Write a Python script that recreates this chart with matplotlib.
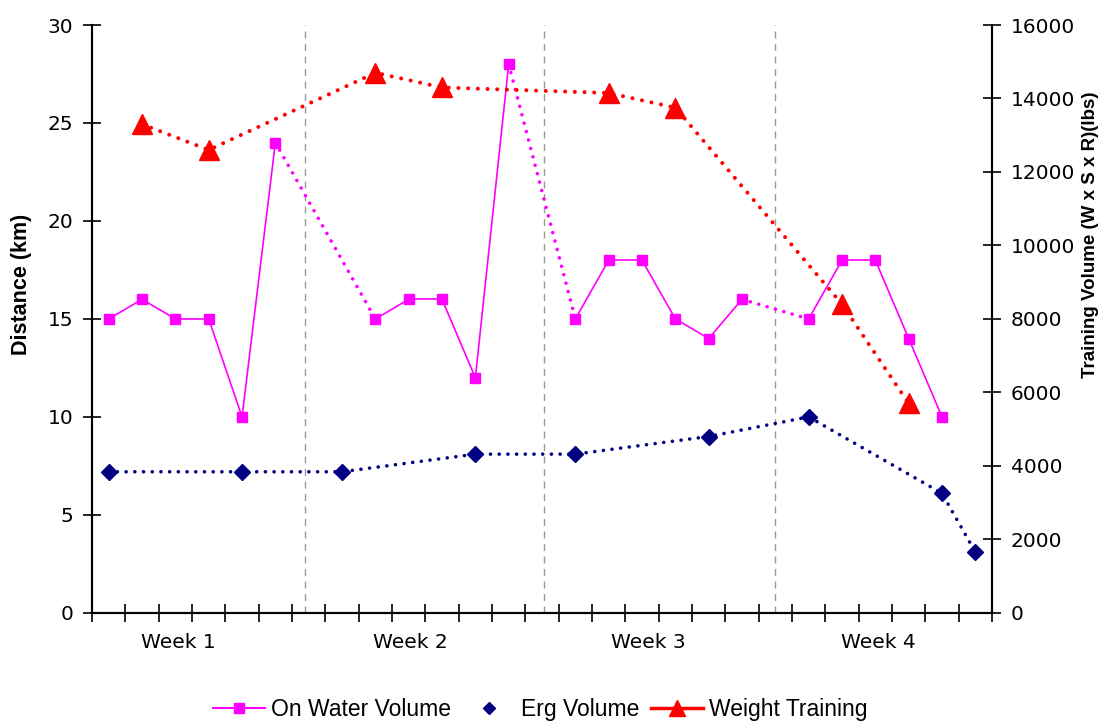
import numpy as np
import matplotlib.pyplot as plt
from matplotlib.lines import Line2D

# one slot per training day, 27 days over four weeks
n_days = 27
water_day = [0, 1, 2, 3, 4, 5, 8, 9, 10, 11, 12, 14, 15, 16, 17, 18, 19, 21, 22, 23, 24, 25]
water_km = [15, 16, 15, 15, 10, 24, 15, 16, 16, 12, 28, 15, 18, 18, 15, 14, 16, 15, 18, 18, 14, 10]

erg_day = [0, 4, 7, 11, 14, 18, 21, 25, 26]
erg_km = [7.2, 7.2, 7.2, 8.1, 8.1, 9.0, 10.0, 6.1, 3.1]

weights_day = [1, 3, 8, 10, 15, 17, 22, 24]
weights_lbs = [13300, 12600, 14700, 14300, 14150, 13750, 8400, 5700]

week_labels = ['Week 1', 'Week 2', 'Week 3', 'Week 4']
week_label_day = [2.1, 9.05, 16.2, 23.1]
week_breaks = [5.9, 13.05, 20.0]

MAGENTA = '#FF00FF'
NAVY = '#000080'
RED = '#FF0000'
dots = (0, (0.01, 2.4))

fig = plt.figure(figsize=(11.09, 7.21), dpi=100)
ax = fig.add_axes([0.083, 0.150, 0.8115, 0.8153])
ax2 = ax.twinx()

for xb in week_breaks:
    ax.axvline(xb, color='#999999', lw=1.0, ls=(0, (5, 4)), zorder=1)

# on water: solid between consecutive days, dotted across rest days
for i in range(len(water_day) - 1):
    seg_x = water_day[i:i + 2]
    seg_y = water_km[i:i + 2]
    if seg_x[1] - seg_x[0] == 1:
        ax.plot(seg_x, seg_y, color=MAGENTA, lw=1.2, zorder=3)
    else:
        ax.plot(seg_x, seg_y, color=MAGENTA, lw=2.6, ls=dots,
                dash_capstyle='round', zorder=3)
ax.plot(water_day, water_km, ls='none', marker='s', ms=7.5,
        color=MAGENTA, zorder=4)

ax.plot(erg_day, erg_km, color=NAVY, lw=2.6, ls=dots,
        dash_capstyle='round', marker='D', ms=8, zorder=3)

ax2.plot(weights_day, weights_lbs, color=RED, lw=2.9, ls=dots,
         dash_capstyle='round', marker='^', ms=14, zorder=3)

ax.set_xlim(-0.5, n_days - 0.5)
ax.set_ylim(0, 30)
ax2.set_ylim(0, 16000)
ax.set_yticks(np.arange(0, 31, 5))
ax2.set_yticks(np.arange(0, 16001, 2000))

ax.set_xticks(np.arange(-0.5, n_days, 1))
ax.set_xticklabels([])
ax.set_xticks(week_label_day, minor=True)
ax.set_xticklabels(week_labels, minor=True)

tick_font = dict(labelsize=14.5, labelcolor='black')
ax.tick_params(axis='x', which='major', direction='inout', length=13, width=1.2)
ax.tick_params(axis='x', which='minor', length=0, pad=14.5, **tick_font)
ax.tick_params(axis='y', direction='inout', length=13, width=1.2, pad=7, **tick_font)
ax2.tick_params(axis='y', direction='inout', length=13, width=1.2, pad=7, **tick_font)

for a in (ax, ax2):
    a.spines['top'].set_visible(False)
    for s in ('left', 'right', 'bottom'):
        a.spines[s].set_linewidth(1.5)
ax2.set_zorder(ax.get_zorder() + 1)
ax2.patch.set_visible(False)

label_font = dict(family='Liberation Sans', fontweight='bold')
fig.text(0.0195, 0.605, 'Distance (km)', rotation=90, ha='center', va='center',
         fontsize=15.5, **label_font)
fig.text(0.983, 0.675, 'Training Volume (W x S x R)(lbs)', rotation=90,
         ha='center', va='center', fontsize=13.5, **label_font)

handles = [
    Line2D([], [], color=MAGENTA, lw=1.5, marker='s', ms=7.5),
    Line2D([], [], color=NAVY, ls='none', marker='D', ms=6),
    Line2D([], [], color=RED, lw=2.5, marker='^', ms=12),
]
fig.legend(handles, ['On Water Volume', 'Erg Volume', 'Weight Training'],
           loc='center', bbox_to_anchor=(0.487, 0.016), ncol=3, frameon=False,
           handlelength=2.3, handletextpad=0.25, columnspacing=0.5,
           prop=dict(family='Liberation Sans', size=16.5))

fig.savefig('out.png', dpi=100)
